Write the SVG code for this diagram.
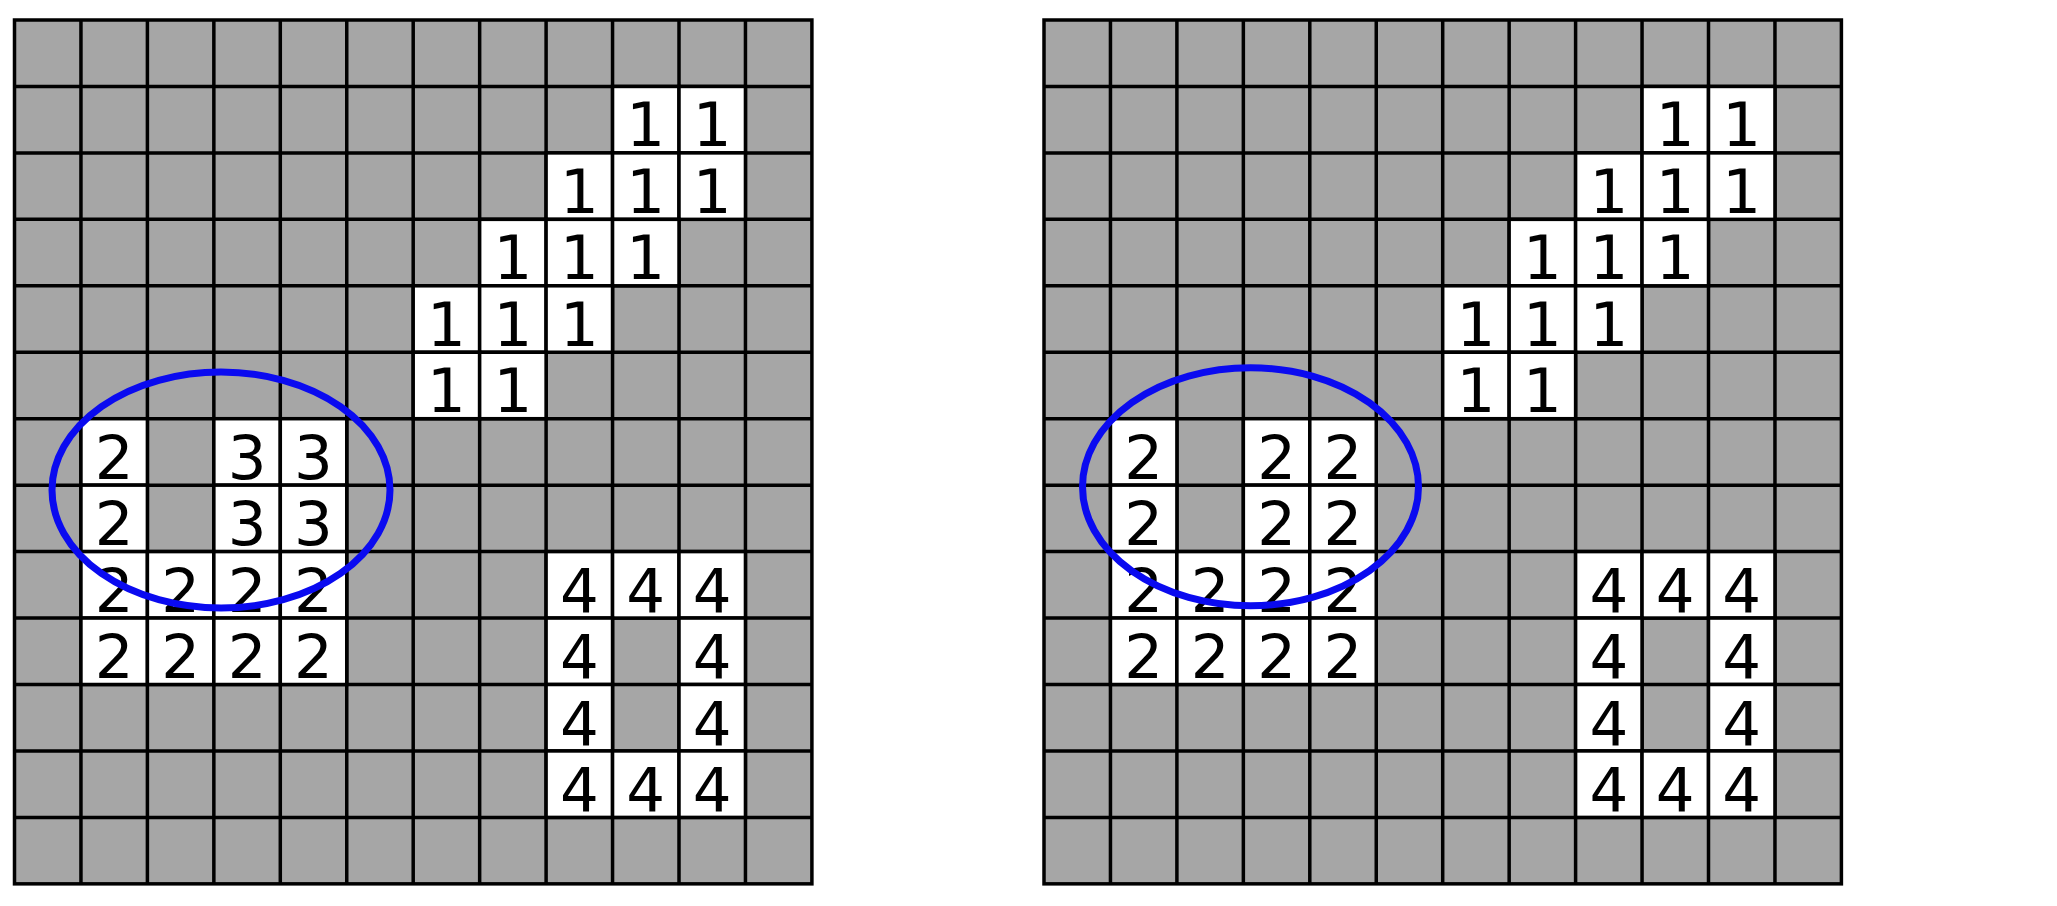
<svg xmlns="http://www.w3.org/2000/svg" xmlns:xlink="http://www.w3.org/1999/xlink" width="2057" height="906" viewBox="0 0 2057 906">
<style>
.bg{fill:#a6a6a6;stroke:#000;stroke-width:3.5}
.gl{stroke:#000;stroke-width:3.5;fill:none}
.w{fill:#fff;stroke:#000;stroke-width:3.5}
.t{font-family:"DejaVu Sans","Liberation Sans",sans-serif;font-size:61px;fill:#000;text-anchor:middle}
.ring{fill:none;stroke:#0a0af0;stroke-width:7}
</style>
<defs>
<g id="grid">
<rect class="bg" x="0" y="0" width="797.4" height="863.85"/>
<path class="gl" d="M66.45 0V863.85M132.9 0V863.85M199.35 0V863.85M265.8 0V863.85M332.25 0V863.85M398.7 0V863.85M465.15 0V863.85M531.6 0V863.85M598.05 0V863.85M664.5 0V863.85M730.95 0V863.85
M0 66.45H797.4M0 132.9H797.4M0 199.35H797.4M0 265.8H797.4M0 332.25H797.4M0 398.7H797.4M0 465.15H797.4M0 531.6H797.4M0 598.05H797.4M0 664.5H797.4M0 730.95H797.4M0 797.4H797.4"/>
</g>
<g id="cells">
<rect class="w" x="598.05" y="66.45" width="66.45" height="66.45"/><rect class="w" x="664.5" y="66.45" width="66.45" height="66.45"/>
<rect class="w" x="531.6" y="132.9" width="66.45" height="66.45"/><rect class="w" x="598.05" y="132.9" width="66.45" height="66.45"/><rect class="w" x="664.5" y="132.9" width="66.45" height="66.45"/>
<rect class="w" x="465.15" y="199.35" width="66.45" height="66.45"/><rect class="w" x="531.6" y="199.35" width="66.45" height="66.45"/><rect class="w" x="598.05" y="199.35" width="66.45" height="66.45"/>
<rect class="w" x="398.7" y="265.8" width="66.45" height="66.45"/><rect class="w" x="465.15" y="265.8" width="66.45" height="66.45"/><rect class="w" x="531.6" y="265.8" width="66.45" height="66.45"/>
<rect class="w" x="398.7" y="332.25" width="66.45" height="66.45"/><rect class="w" x="465.15" y="332.25" width="66.45" height="66.45"/>
<rect class="w" x="66.45" y="398.7" width="66.45" height="66.45"/><rect class="w" x="199.35" y="398.7" width="66.45" height="66.45"/><rect class="w" x="265.8" y="398.7" width="66.45" height="66.45"/>
<rect class="w" x="66.45" y="465.15" width="66.45" height="66.45"/><rect class="w" x="199.35" y="465.15" width="66.45" height="66.45"/><rect class="w" x="265.8" y="465.15" width="66.45" height="66.45"/>
<rect class="w" x="66.45" y="531.6" width="66.45" height="66.45"/><rect class="w" x="132.9" y="531.6" width="66.45" height="66.45"/><rect class="w" x="199.35" y="531.6" width="66.45" height="66.45"/><rect class="w" x="265.8" y="531.6" width="66.45" height="66.45"/>
<rect class="w" x="66.45" y="598.05" width="66.45" height="66.45"/><rect class="w" x="132.9" y="598.05" width="66.45" height="66.45"/><rect class="w" x="199.35" y="598.05" width="66.45" height="66.45"/><rect class="w" x="265.8" y="598.05" width="66.45" height="66.45"/>
<rect class="w" x="531.6" y="531.6" width="66.45" height="66.45"/><rect class="w" x="598.05" y="531.6" width="66.45" height="66.45"/><rect class="w" x="664.5" y="531.6" width="66.45" height="66.45"/>
<rect class="w" x="531.6" y="598.05" width="66.45" height="66.45"/><rect class="w" x="664.5" y="598.05" width="66.45" height="66.45"/>
<rect class="w" x="531.6" y="664.5" width="66.45" height="66.45"/><rect class="w" x="664.5" y="664.5" width="66.45" height="66.45"/>
<rect class="w" x="531.6" y="730.95" width="66.45" height="66.45"/><rect class="w" x="598.05" y="730.95" width="66.45" height="66.45"/><rect class="w" x="664.5" y="730.95" width="66.45" height="66.45"/>
</g>
<g id="common-labels" class="t">
<text x="631.25" y="126.45">1</text><text x="697.7" y="126.45">1</text>
<text x="564.8" y="192.9">1</text><text x="631.25" y="192.9">1</text><text x="697.7" y="192.9">1</text>
<text x="498.35" y="259.35">1</text><text x="564.8" y="259.35">1</text><text x="631.25" y="259.35">1</text>
<text x="431.9" y="325.8">1</text><text x="498.35" y="325.8">1</text><text x="564.8" y="325.8">1</text>
<text x="431.9" y="392.25">1</text><text x="498.35" y="392.25">1</text>
<text x="99.65" y="458.7">2</text>
<text x="99.65" y="525.15">2</text>
<text x="99.65" y="591.6">2</text><text x="166.1" y="591.6">2</text><text x="232.55" y="591.6">2</text><text x="299" y="591.6">2</text>
<text x="99.65" y="658.05">2</text><text x="166.1" y="658.05">2</text><text x="232.55" y="658.05">2</text><text x="299" y="658.05">2</text>
<text x="564.8" y="591.6">4</text><text x="631.25" y="591.6">4</text><text x="697.7" y="591.6">4</text>
<text x="564.8" y="658.05">4</text><text x="697.7" y="658.05">4</text>
<text x="564.8" y="724.5">4</text><text x="697.7" y="724.5">4</text>
<text x="564.8" y="790.95">4</text><text x="631.25" y="790.95">4</text><text x="697.7" y="790.95">4</text>
</g>
</defs>
<rect x="0" y="0" width="2057" height="906" fill="#fff"/>
<g id="left-panel" transform="translate(14.5,20)">
<use xlink:href="#grid"/>
<use xlink:href="#cells"/>
<use xlink:href="#common-labels"/>
<g class="t">
<text x="232.55" y="458.7">3</text><text x="299" y="458.7">3</text>
<text x="232.55" y="525.15">3</text><text x="299" y="525.15">3</text>
</g>
</g>
<g id="right-panel" transform="translate(1044,20)">
<use xlink:href="#grid"/>
<use xlink:href="#cells"/>
<use xlink:href="#common-labels"/>
<g class="t">
<text x="232.55" y="458.7">2</text><text x="299" y="458.7">2</text>
<text x="232.55" y="525.15">2</text><text x="299" y="525.15">2</text>
</g>
</g>
<g id="connectors">
<ellipse id="left-ring" class="ring" cx="221" cy="490" rx="169" ry="118"/>
<ellipse id="right-ring" class="ring" cx="1250.5" cy="486.7" rx="168" ry="119"/>
</g>
</svg>
